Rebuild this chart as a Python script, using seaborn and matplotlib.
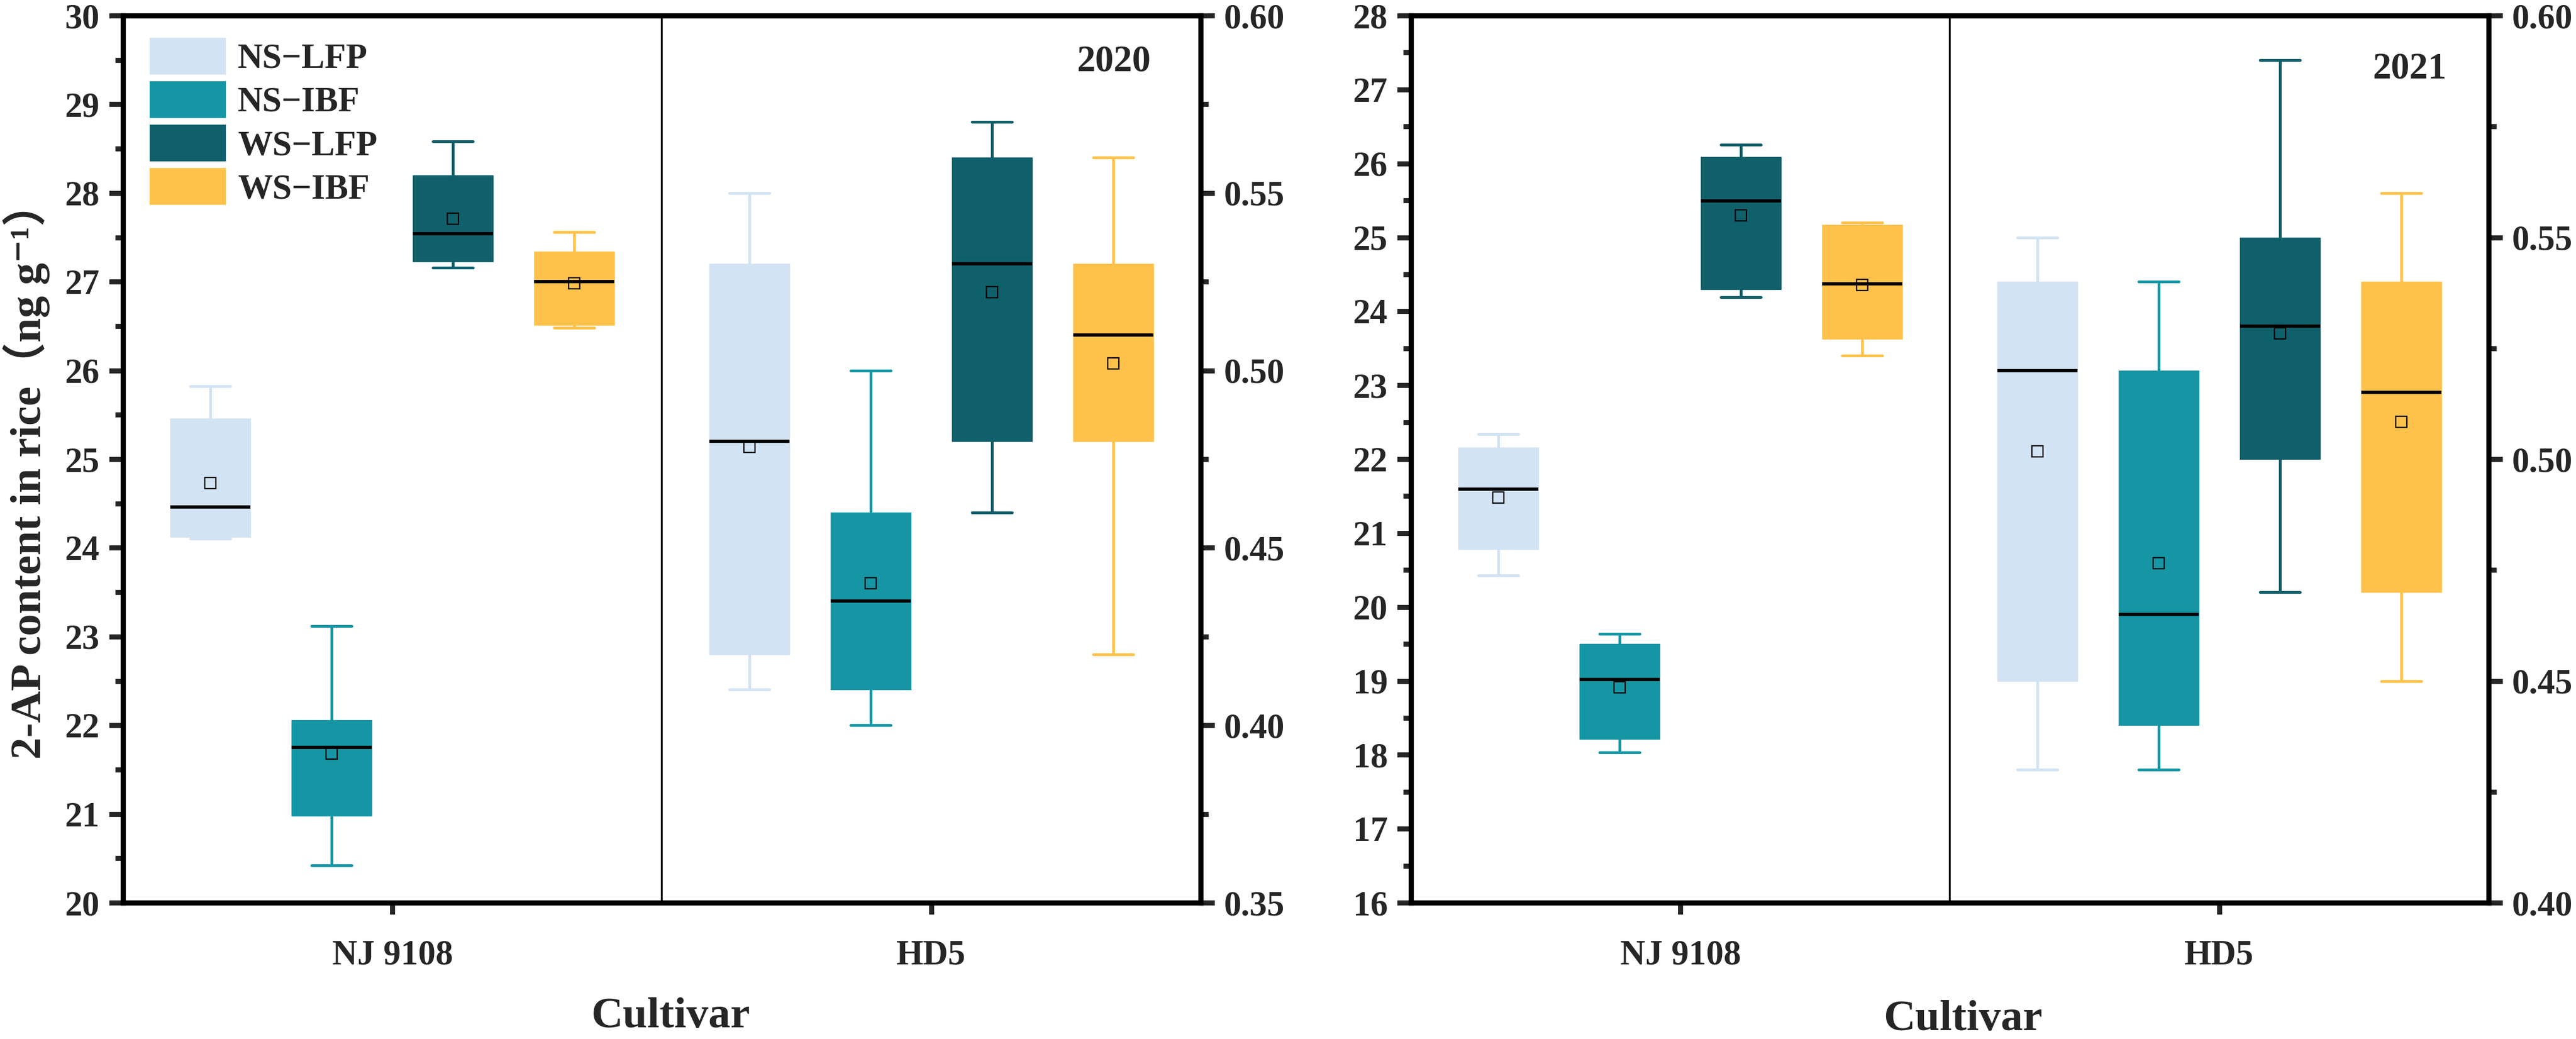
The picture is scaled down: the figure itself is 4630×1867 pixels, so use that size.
import numpy as np
import pandas as pd
import matplotlib
matplotlib.use("Agg")
import matplotlib.pyplot as plt
from matplotlib.patches import Patch
from matplotlib.ticker import MultipleLocator, FormatStrFormatter
import seaborn as sns

# ---------------- data ----------------
treatments = ["NS\u2212LFP", "NS\u2212IBF", "WS\u2212LFP", "WS\u2212IBF"]
cultivars = ["NJ 9108", "HD5"]
colors = ["#D2E3F3", "#1696A4", "#10606B", "#FEC24B"]

# 2020, NJ 9108 (left axis)
nj2020_lo = [24.10, 20.42, 27.16, 26.48]
nj2020_q1 = [24.12, 20.98, 27.23, 26.51]
nj2020_med = [24.46, 21.75, 27.54, 27.00]
nj2020_q3 = [25.46, 22.06, 28.20, 27.34]
nj2020_hi = [25.82, 23.12, 28.58, 27.56]
nj2020_mean = [24.73, 21.68, 27.71, 26.98]

# 2020, HD5 (right axis)
hd2020_lo = [0.410, 0.400, 0.460, 0.420]
hd2020_q1 = [0.420, 0.410, 0.480, 0.480]
hd2020_med = [0.480, 0.435, 0.530, 0.510]
hd2020_q3 = [0.530, 0.460, 0.560, 0.530]
hd2020_hi = [0.550, 0.500, 0.570, 0.560]
hd2020_mean = [0.4785, 0.440, 0.522, 0.502]

# 2021, NJ 9108 (left axis)
nj2021_lo = [20.43, 18.03, 24.19, 23.40]
nj2021_q1 = [20.78, 18.21, 24.30, 23.63]
nj2021_med = [21.59, 19.02, 25.49, 24.375]
nj2021_q3 = [22.16, 19.50, 26.09, 25.17]
nj2021_hi = [22.34, 19.64, 26.25, 25.20]
nj2021_mean = [21.48, 18.91, 25.30, 24.36]

# 2021, HD5 (right axis)
hd2021_lo = [0.430, 0.430, 0.470, 0.450]
hd2021_q1 = [0.450, 0.440, 0.500, 0.470]
hd2021_med = [0.520, 0.465, 0.530, 0.515]
hd2021_q3 = [0.540, 0.520, 0.550, 0.540]
hd2021_hi = [0.550, 0.540, 0.590, 0.560]
hd2021_mean = [0.5018, 0.4766, 0.5284, 0.5084]

years = ["2020", "2021"]
left_ylims = [(20, 30), (16, 28)]
right_ylims = [(0.35, 0.60), (0.40, 0.60)]
ylabel_text = "2-AP content in rice\uff08ng g\u207b\u00b9\uff09"


def five_num_frame(cultivar, lo, q1, med, q3, hi):
    rows = []
    for t, a, b, c, d, e in zip(treatments, lo, q1, med, q3, hi):
        for v in (a, b, c, d, e):
            rows.append({"cultivar": cultivar, "treatment": t, "value": v})
    return pd.DataFrame(rows)


def mean_frame(cultivar, means):
    return pd.DataFrame({"cultivar": [cultivar] * len(treatments),
                         "treatment": treatments, "value": means})


panels = [
    (five_num_frame("NJ 9108", nj2020_lo, nj2020_q1, nj2020_med, nj2020_q3, nj2020_hi),
     mean_frame("NJ 9108", nj2020_mean),
     five_num_frame("HD5", hd2020_lo, hd2020_q1, hd2020_med, hd2020_q3, hd2020_hi),
     mean_frame("HD5", hd2020_mean)),
    (five_num_frame("NJ 9108", nj2021_lo, nj2021_q1, nj2021_med, nj2021_q3, nj2021_hi),
     mean_frame("NJ 9108", nj2021_mean),
     five_num_frame("HD5", hd2021_lo, hd2021_q1, hd2021_med, hd2021_q3, hd2021_hi),
     mean_frame("HD5", hd2021_mean)),
]

# ---------------- style ----------------
sns.set_theme(style="ticks")
plt.rcParams["font.family"] = ["Liberation Serif", "Noto Sans CJK SC", "DejaVu Sans"]
plt.rcParams["font.weight"] = "bold"
plt.rcParams["axes.labelweight"] = "bold"

SPINE_LW = 2.2
TICK_FS = 15

fig = plt.figure(figsize=(4630 / 300, 1867 / 300), dpi=300)
ax_rects = [[0.0477, 0.1312, 0.4184, 0.8538], [0.5477, 0.1312, 0.4184, 0.8538]]
year_pos = [(0.9535, 0.947), (0.961, 0.939)]
xlabel_pos = [(0.508, -0.1286), (0.512, -0.132)]


def draw_boxes(ax, df, mdf):
    sns.boxplot(data=df, x="cultivar", y="value", hue="treatment",
                order=cultivars, hue_order=treatments, palette=colors,
                saturation=1, width=0.9, gap=0.34, dodge=True,
                whis=(0, 100), showfliers=False, linewidth=1.2,
                medianprops={"color": "black", "linewidth": 1.4, "zorder": 4},
                legend=False, ax=ax)
    for c in ax.containers:
        boxes = list(getattr(c, "boxes", []))
        whiskers = list(getattr(c, "whiskers", []))
        caps = list(getattr(c, "caps", []))
        for i, box in enumerate(boxes):
            col = box.get_facecolor()
            box.set_edgecolor(col)
            box.set_linewidth(0.3)
            for ln in whiskers[2 * i:2 * i + 2] + caps[2 * i:2 * i + 2]:
                ln.set_color(col)
                ln.set_linewidth(1.2)
                ln.set_solid_capstyle("round")
    sns.pointplot(data=mdf, x="cultivar", y="value", hue="treatment",
                  order=cultivars, hue_order=treatments,
                  palette=["black"] * 4, dodge=0.675, markers="s",
                  linestyle="none", errorbar=None, legend=False,
                  markersize=4.6, markerfacecolor="none",
                  markeredgewidth=0.55, zorder=5, ax=ax)


for k in range(2):
    nj_df, nj_mean, hd_df, hd_mean = panels[k]
    ax = fig.add_axes(ax_rects[k])
    ax2 = ax.twinx()

    draw_boxes(ax, nj_df, nj_mean)
    draw_boxes(ax2, hd_df, hd_mean)

    ax.set_xlim(-0.5, 1.5)
    ax.axvline(0.5, color="black", linewidth=0.8, zorder=1)

    ax.set_ylim(*left_ylims[k])
    ax.yaxis.set_major_locator(MultipleLocator(1))
    ax.yaxis.set_minor_locator(MultipleLocator(0.5))
    ax2.set_ylim(*right_ylims[k])
    ax2.yaxis.set_major_locator(MultipleLocator(0.05))
    ax2.yaxis.set_minor_locator(MultipleLocator(0.025))
    ax2.yaxis.set_major_formatter(FormatStrFormatter("%.2f"))

    for a in (ax, ax2):
        for s in a.spines.values():
            s.set_visible(True)
            s.set_linewidth(SPINE_LW)
            s.set_color("black")
    ax.tick_params(axis="y", which="major", direction="out", length=6,
                   width=SPINE_LW, labelsize=TICK_FS, pad=4, left=True, right=False)
    ax.tick_params(axis="y", which="minor", direction="out", length=3.4,
                   width=SPINE_LW, left=True, right=False)
    ax2.tick_params(axis="y", which="major", direction="out", length=6,
                    width=SPINE_LW, labelsize=TICK_FS, pad=4, right=True, left=False)
    ax2.tick_params(axis="y", which="minor", direction="out", length=3.4,
                    width=SPINE_LW, right=True, left=False)
    ax.tick_params(axis="x", which="major", direction="out", length=5,
                   width=SPINE_LW, labelsize=TICK_FS, pad=11, bottom=True, top=False)
    ax.tick_params(axis="x", which="minor", bottom=False, top=False)
    for lab in ax.get_xticklabels() + ax.get_yticklabels() + ax2.get_yticklabels():
        lab.set_fontweight("bold")

    ax2.set_ylabel("")
    ax.set_xlabel("Cultivar", fontsize=19, fontweight="bold")
    ax.xaxis.set_label_coords(*xlabel_pos[k])
    ax.xaxis.label.set_va("center")
    if k == 0:
        ax.set_ylabel(ylabel_text, fontsize=19, fontweight="bold")
        ax.yaxis.set_label_coords(-0.0893, 0.487)
        ax.yaxis.label.set_va("center")
        handles = [Patch(facecolor=c, edgecolor="none", label=t)
                   for c, t in zip(colors, treatments)]
        ax2.legend(handles=handles, loc="upper left",
                   bbox_to_anchor=(0.0248, 0.975), frameon=False,
                   prop={"size": 15, "weight": "bold"},
                   handlelength=2.2, handleheight=1.25, handletextpad=0.33,
                   labelspacing=0.16, borderpad=0, borderaxespad=0)
    else:
        ax.set_ylabel("")

    ax2.text(year_pos[k][0], year_pos[k][1], years[k], transform=ax2.transAxes,
             ha="right", va="center", fontsize=16, fontweight="bold")

fig.savefig("out.png", dpi=300)
